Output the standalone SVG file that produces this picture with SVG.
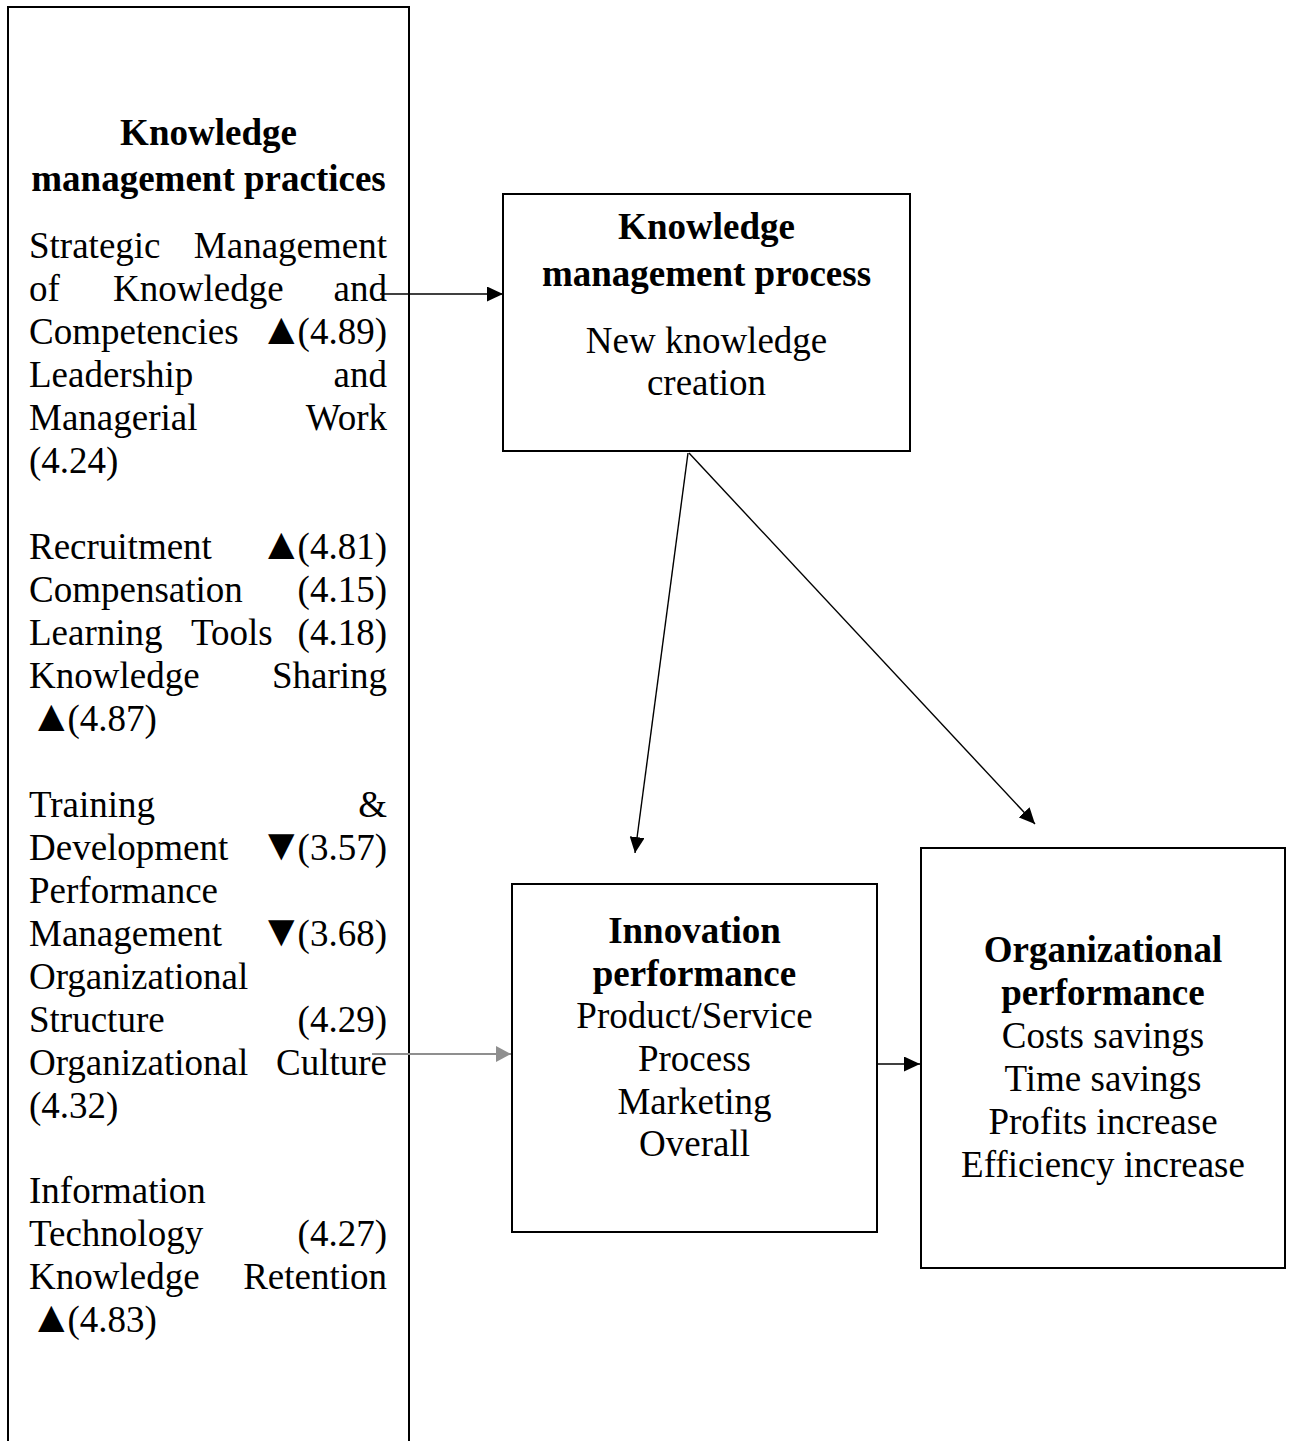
<svg xmlns="http://www.w3.org/2000/svg" width="1292" height="1441" viewBox="0 0 1292 1441">
<style>
.t{font-family:"Liberation Serif","Times New Roman","DejaVu Serif",serif;font-size:37px;fill:#000}
.b{font-weight:bold}
.m{text-anchor:middle}
.e{text-anchor:end}
.tri{font-size:45px}
.box{fill:#fff;stroke:#000;stroke-width:2}
.ln{stroke:#000;stroke-width:1.4;fill:none}
.gl{stroke:#8f8f8f;stroke-width:2;fill:none}
</style>
<defs>
<marker id="ah" markerUnits="userSpaceOnUse" markerWidth="17" markerHeight="15" refX="16" refY="7.5" orient="auto">
<path d="M0,0 L16,7.5 L0,15 z" fill="#000"/>
</marker>
<marker id="ahg" markerUnits="userSpaceOnUse" markerWidth="16" markerHeight="16" refX="15" refY="8" orient="auto">
<path d="M0,0 L15,8 L0,16 z" fill="#8f8f8f"/>
</marker>
</defs>
<g id="practices">
<rect class="box" x="8" y="7" width="401" height="1460"/>
<text class="t b m" x="208.5" y="145">Knowledge</text>
<text class="t b m" x="208.5" y="191">management practices</text>
<text class="t" x="29" y="258">Strategic</text><text class="t e" x="387" y="258">Management</text>
<text class="t" x="29" y="301">of</text><text class="t" x="113" y="301">Knowledge</text><text class="t e" x="387" y="301">and</text>
<text class="t" x="29" y="344">Competencies</text><text class="t e" x="387" y="344"><tspan class="tri">▲</tspan><tspan dx="-6">(4.89)</tspan></text>
<text class="t" x="29" y="387">Leadership</text><text class="t e" x="387" y="387">and</text>
<text class="t" x="29" y="430">Managerial</text><text class="t e" x="387" y="430">Work</text>
<text class="t" x="29" y="473">(4.24)</text>
<text class="t" x="29" y="559">Recruitment</text><text class="t e" x="387" y="559"><tspan class="tri">▲</tspan><tspan dx="-6">(4.81)</tspan></text>
<text class="t" x="29" y="602">Compensation</text><text class="t e" x="387" y="602">(4.15)</text>
<text class="t" x="29" y="645">Learning</text><text class="t" x="191" y="645">Tools</text><text class="t e" x="387" y="645">(4.18)</text>
<text class="t" x="29" y="688">Knowledge</text><text class="t e" x="387" y="688">Sharing</text>
<text class="t" x="29" y="731"><tspan class="tri">▲</tspan><tspan dx="-6">(4.87)</tspan></text>
<text class="t" x="29" y="817">Training</text><text class="t e" x="387" y="817">&amp;</text>
<text class="t" x="29" y="860">Development</text><text class="t e" x="387" y="860"><tspan class="tri">▼</tspan><tspan dx="-6">(3.57)</tspan></text>
<text class="t" x="29" y="903">Performance</text>
<text class="t" x="29" y="946">Management</text><text class="t e" x="387" y="946"><tspan class="tri">▼</tspan><tspan dx="-6">(3.68)</tspan></text>
<text class="t" x="29" y="989">Organizational</text>
<text class="t" x="29" y="1032">Structure</text><text class="t e" x="387" y="1032">(4.29)</text>
<text class="t" x="29" y="1075">Organizational</text><text class="t e" x="387" y="1075">Culture</text>
<text class="t" x="29" y="1118">(4.32)</text>
<text class="t" x="29" y="1203">Information</text>
<text class="t" x="29" y="1246">Technology</text><text class="t e" x="387" y="1246">(4.27)</text>
<text class="t" x="29" y="1289">Knowledge</text><text class="t e" x="387" y="1289">Retention</text>
<text class="t" x="29" y="1332"><tspan class="tri">▲</tspan><tspan dx="-6">(4.83)</tspan></text>
</g>
<g id="process">
<rect class="box" x="503" y="194" width="407" height="257"/>
<text class="t b m" x="706.5" y="239">Knowledge</text>
<text class="t b m" x="706.5" y="286">management process</text>
<text class="t m" x="706.5" y="353">New knowledge</text>
<text class="t m" x="706.5" y="395">creation</text>
</g>
<g id="innovation">
<rect class="box" x="512" y="884" width="365" height="348"/>
<text class="t b m" x="694.5" y="943">Innovation</text>
<text class="t b m" x="694.5" y="986">performance</text>
<text class="t m" x="694.5" y="1028">Product/Service</text>
<text class="t m" x="694.5" y="1071">Process</text>
<text class="t m" x="694.5" y="1114">Marketing</text>
<text class="t m" x="694.5" y="1156">Overall</text>
</g>
<g id="organizational">
<rect class="box" x="921" y="848" width="364" height="420"/>
<text class="t b m" x="1103" y="962">Organizational</text>
<text class="t b m" x="1103" y="1005">performance</text>
<text class="t m" x="1103" y="1048">Costs savings</text>
<text class="t m" x="1103" y="1091">Time savings</text>
<text class="t m" x="1103" y="1134">Profits increase</text>
<text class="t m" x="1103" y="1177">Efficiency increase</text>
</g>
<g id="connectors">
<line class="ln" x1="380" y1="294" x2="503" y2="294" marker-end="url(#ah)"/>
<line class="gl" x1="372" y1="1054" x2="511" y2="1054" marker-end="url(#ahg)"/>
<line class="ln" x1="877" y1="1064" x2="920" y2="1064" marker-end="url(#ah)"/>
<line class="ln" x1="688" y1="453" x2="635" y2="853" marker-end="url(#ah)"/>
<line class="ln" x1="689" y1="453" x2="1035" y2="824" marker-end="url(#ah)"/>
</g>
</svg>
